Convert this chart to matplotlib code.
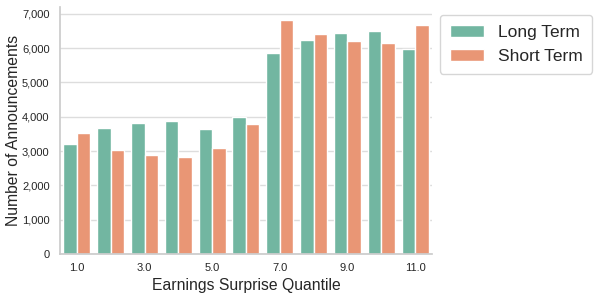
import matplotlib
matplotlib.use('Agg')
import matplotlib.pyplot as plt
import matplotlib.ticker as mticker
import seaborn as sns
import pandas as pd

quantiles = [1.0, 2.0, 3.0, 4.0, 5.0, 6.0, 7.0, 8.0, 9.0, 10.0, 11.0]
long_term = [3200, 3670, 3830, 3870, 3650, 3980, 5850, 6240, 6450, 6500, 5980]
short_term = [3520, 3040, 2880, 2840, 3090, 3800, 6830, 6410, 6210, 6140, 6690]

df = pd.DataFrame({
    'quantile': quantiles * 2,
    'count': long_term + short_term,
    'term': ['Long Term'] * len(quantiles) + ['Short Term'] * len(quantiles),
})

sns.set_theme(style='whitegrid')
plt.rcParams['font.family'] = ['Arial', 'Liberation Sans', 'DejaVu Sans']

fig = plt.figure(figsize=(5.98, 2.99), dpi=100)
ax = fig.add_axes([0.1003, 0.1505, 0.622, 0.826])
sns.barplot(data=df, x='quantile', y='count', hue='term', palette='Set2', ax=ax)

ticks = ax.get_xticks()
ax.set_xticks(ticks)
ax.set_xticklabels([f'{q:.1f}' if i % 2 == 0 else '' for i, q in enumerate(quantiles)], fontsize=8)
ax.yaxis.set_major_formatter(mticker.FuncFormatter(lambda v, p: f'{int(v):,}'))
ax.tick_params(axis='y', labelsize=8, pad=1.5)
ax.tick_params(axis='x', pad=0.5)
ax.xaxis.grid(False)
ax.grid(axis='y', color='#dddddd')
ax.set_ylim(0, 7200)
ax.set_xlabel('Earnings Surprise Quantile', fontsize=11.3, labelpad=3.5)
ax.set_ylabel('Number of Announcements', fontsize=11.3, labelpad=0.5)
sns.despine(ax=ax)
ax.legend(loc='upper left', bbox_to_anchor=(440 / 598, 1 - 15 / 299), bbox_transform=fig.transFigure,
          borderaxespad=0, fontsize=12.5, frameon=True, borderpad=0.55, labelspacing=0.55)

fig.savefig('out.png', dpi=100)
